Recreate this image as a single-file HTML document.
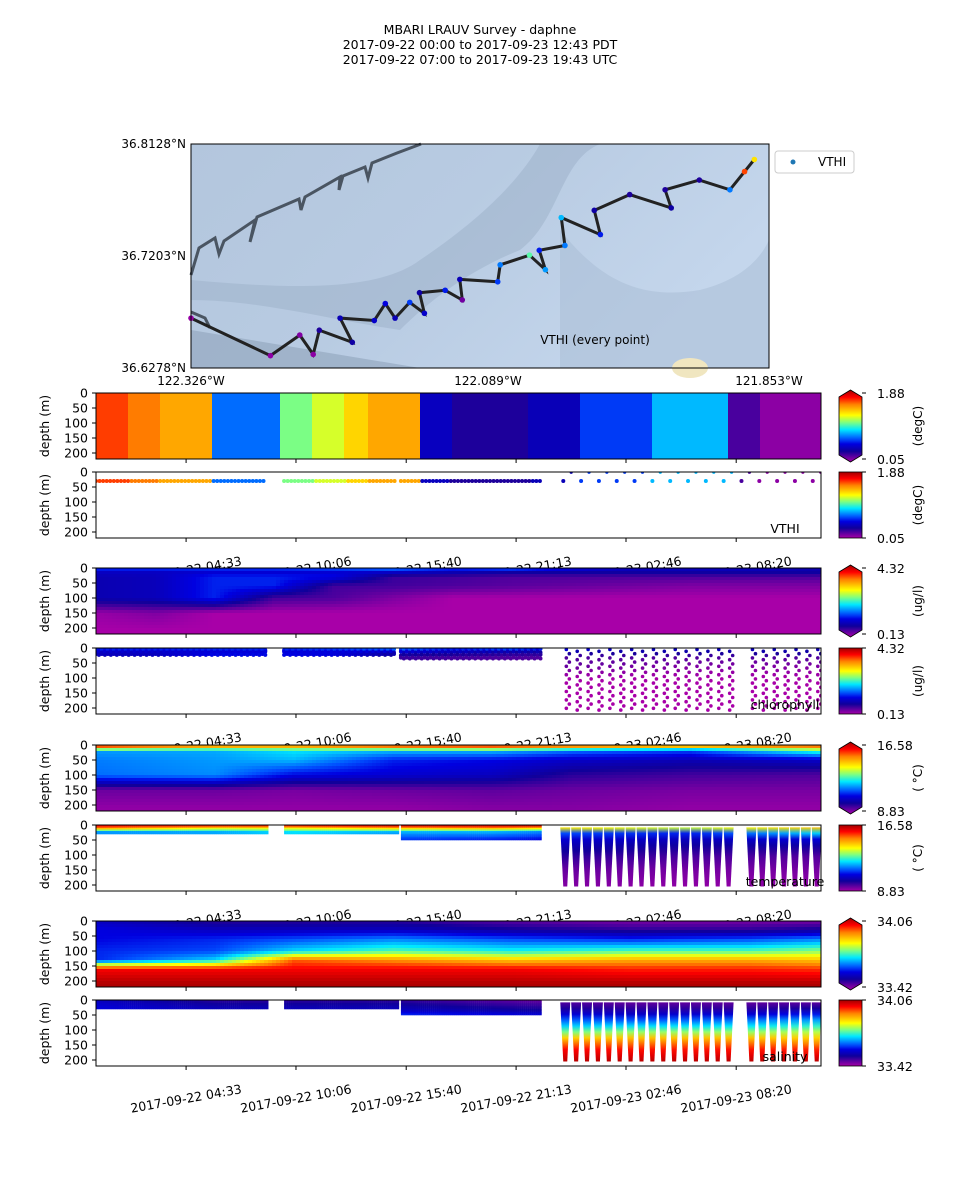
<!DOCTYPE html>
<html><head><meta charset="utf-8">
<style>
html,body{margin:0;padding:0;background:#fff;}
svg{display:block;font-family:"DejaVu Sans","Liberation Sans",sans-serif;}
</style></head>
<body>
<svg id="chart" width="960" height="1200" viewBox="0 0 960 1200" xmlns="http://www.w3.org/2000/svg">
<rect width="960" height="1200" fill="#fff"/>
<g font-size="12.5" text-anchor="middle" fill="#000">
<text x="480" y="34">MBARI LRAUV Survey - daphne</text>
<text x="480" y="49">2017-09-22 00:00  to  2017-09-23 12:43 PDT</text>
<text x="480" y="64">2017-09-22 07:00  to  2017-09-23 19:43 UTC</text>
</g>
<g id="root"></g>
</svg>
<script>
// ---------- DATA ----------
const vthiRange = [0.05, 1.88];
const chlRange = [0.13, 4.32];
const tempRange = [8.83, 16.58];
const salRange = [33.42, 34.06];
const tickHours = [4.55, 10.1, 15.667, 21.217, 26.767, 32.333];
const tickLabels = ["2017-09-22 04:33","2017-09-22 10:06","2017-09-22 15:40","2017-09-22 21:13","2017-09-23 02:46","2017-09-23 08:20"];
const depthTicks = [0, 50, 100, 150, 200];
// VTHI contour blocks
const vthiBlockStart = [0, 1.7, 3.2, 5.9, 9.3, 11.0, 12.6, 13.8, 16.4, 17.9, 21.9, 24.4, 28.0, 32.0, 33.5];
const vthiBlockVal = [1.61, 1.52, 1.43, 0.68, 1.05, 1.18, 1.33, 1.43, 0.42, 0.30, 0.40, 0.60, 0.80, 0.22, 0.10];
// chlorophyll contour profiles
const chlTimes = [0, 3, 6, 9, 12, 15, 18, 21, 24, 27, 30, 33, 36.8];
const chlDepths = [0, 15, 30, 60, 100, 150, 210];
const chlD0 = [1.4, 1.4, 1.4, 1.4, 1.5, 1.7, 1.4, 1.6, 1.2, 1.0, 1.0, 1.0, 0.9];
const chlD15 = [1.0, 1.0, 1.1, 1.1, 1.1, 1.0, 0.9, 0.8, 0.8, 0.8, 0.8, 0.8, 0.8];
const chlD30 = [0.9, 0.95, 1.3, 1.3, 1.2, 0.6, 0.55, 0.5, 0.5, 0.5, 0.5, 0.5, 0.5];
const chlD60 = [0.9, 0.95, 1.3, 1.3, 0.55, 0.55, 0.5, 0.45, 0.4, 0.35, 0.3, 0.3, 0.3];
const chlD100 = [0.9, 0.95, 1.3, 0.55, 0.5, 0.3, 0.13, 0.13, 0.13, 0.13, 0.13, 0.13, 0.13];
const chlD150 = [0.2, 0.3, 0.13, 0.13, 0.13, 0.13, 0.13, 0.13, 0.13, 0.13, 0.13, 0.13, 0.13];
const chlD210 = [0.13, 0.13, 0.13, 0.13, 0.13, 0.13, 0.13, 0.13, 0.13, 0.13, 0.13, 0.13, 0.13];
// temperature contour profiles
const tempTimes = [0, 6, 10, 15, 20, 24, 30, 36.8];
const tempDepths = [0, 8, 20, 50, 100, 150, 210];
const tempD0 = [15.8, 15.6, 15.6, 16.0, 16.0, 16.2, 16.0, 16.0];
const tempD8 = [15.0, 14.0, 14.0, 14.5, 14.8, 14.0, 13.5, 14.5];
const tempD20 = [11.8, 11.9, 12.3, 12.0, 12.0, 11.5, 11.2, 12.8];
const tempD50 = [11.6, 11.8, 12.0, 11.0, 10.8, 10.5, 10.3, 10.5];
const tempD100 = [11.5, 11.7, 10.8, 10.6, 10.4, 9.8, 9.6, 9.5];
const tempD150 = [9.3, 9.3, 9.2, 9.3, 9.4, 9.3, 9.2, 9.2];
const tempD210 = [9.0, 9.0, 9.0, 9.0, 9.1, 9.1, 9.0, 9.0];
// salinity contour profiles
const salTimes = [0, 6, 10, 15, 21, 27, 33, 36.8];
const salDepths = [0, 30, 60, 100, 130, 160, 210];
const salD0 = [33.55, 33.50, 33.50, 33.50, 33.47, 33.45, 33.45, 33.45];
const salD30 = [33.58, 33.55, 33.55, 33.55, 33.52, 33.50, 33.50, 33.52];
const salD60 = [33.58, 33.60, 33.62, 33.65, 33.62, 33.60, 33.62, 33.65];
const salD100 = [33.60, 33.62, 33.70, 33.75, 33.72, 33.75, 33.75, 33.78];
const salD130 = [33.60, 33.70, 33.95, 33.92, 33.88, 33.90, 33.90, 33.88];
const salD160 = [34.00, 34.00, 34.00, 34.00, 34.00, 33.98, 33.98, 33.97];
const salD210 = [34.05, 34.05, 34.05, 34.05, 34.05, 34.05, 34.05, 34.05];
// sampling segments
const bandStart = [0, 9.5, 15.4];
const bandEnd = [8.6, 15.2, 22.5];
const bandBottom = [28, 28, 50];
const sparseTimes = [23.6, 24.5, 25.4, 26.3, 27.2, 28.1, 29.0, 29.9, 30.8, 31.7, 32.6, 33.5, 34.4, 35.3, 36.2];
const yoyoTimes = [23.7, 24.25, 24.8, 25.35, 25.9, 26.45, 27.0, 27.55, 28.1, 28.65, 29.2, 29.75, 30.3, 30.85, 31.4, 31.95, 33.1, 33.65, 34.2, 34.75, 35.3, 35.85, 36.4];
// map track
const trackLon = [-122.326,-122.261,-122.237,-122.226,-122.221,-122.194,-122.204,-122.176,-122.167,-122.159,-122.147,-122.135,-122.139,-122.118,-122.104,-122.106,-122.075,-122.073,-122.049,-122.036,-122.041,-122.020,-122.023,-121.991,-121.996,-121.967,-121.933,-121.938,-121.910,-121.885,-121.873,-121.865];
const trackLat = [36.669,36.638,36.655,36.639,36.659,36.649,36.669,36.667,36.681,36.669,36.682,36.673,36.690,36.692,36.684,36.701,36.699,36.713,36.721,36.709,36.725,36.729,36.752,36.738,36.758,36.771,36.760,36.775,36.783,36.775,36.790,36.800];
const trackVthi = [0.08,0.10,0.12,0.10,0.30,0.35,0.40,0.45,0.50,0.40,0.60,0.45,0.35,0.55,0.15,0.40,0.60,0.70,1.00,0.75,0.55,0.70,0.80,0.55,0.35,0.30,0.35,0.30,0.30,0.70,1.60,1.30];
const mapLonRange = [-122.326, -121.853];
const mapLatRange = [36.6278, 36.8128];

// ---------- HELPERS ----------
const NS = "http://www.w3.org/2000/svg";
const root = document.getElementById("root");
function mk(tag, attrs, parent) {
  const e = document.createElementNS(NS, tag);
  for (const k in attrs) e.setAttribute(k, attrs[k]);
  (parent || root).appendChild(e);
  return e;
}
const cmStops = [[0,[168,0,168]],[0.06,[106,0,160]],[0.15,[16,0,154]],[0.25,[0,0,224]],[0.32,[0,80,255]],[0.45,[0,232,255]],[0.55,[128,255,128]],[0.65,[255,255,0]],[0.8,[255,128,0]],[0.9,[255,0,0]],[1,[160,0,0]]];
function cmap(n) {
  n = Math.max(0, Math.min(1, n));
  for (let i = 1; i < cmStops.length; i++) {
    if (n <= cmStops[i][0]) {
      const a = cmStops[i-1], b = cmStops[i], f = (n - a[0]) / (b[0] - a[0]);
      const c = a[1].map((v, j) => Math.round(v + (b[1][j] - v) * f));
      return "rgb(" + c.join(",") + ")";
    }
  }
  return "rgb(160,0,0)";
}
function norm(v, r) { return (v - r[0]) / (r[1] - r[0]); }
function interp(xs, ys, x) {
  if (x <= xs[0]) return ys[0];
  for (let i = 1; i < xs.length; i++) if (x <= xs[i]) {
    const f = (x - xs[i-1]) / (xs[i] - xs[i-1]);
    return ys[i-1] + (ys[i] - ys[i-1]) * f;
  }
  return ys[ys.length - 1];
}
const X0 = 96, X1 = 821, PH = 66;
function xOf(h) { return X0 + h * 19.8; }
function yOf(d, top) { return top + d * 0.3; }
function makeField(times, depths, levels) {
  return function (h, d) {
    const prof = levels.map(arr => interp(times, arr, h));
    return interp(depths, prof, d);
  };
}
const chlField = makeField(chlTimes, chlDepths, [chlD0, chlD15, chlD30, chlD60, chlD100, chlD150, chlD210]);
const tempField = makeField(tempTimes, tempDepths, [tempD0, tempD8, tempD20, tempD50, tempD100, tempD150, tempD210]);
const salField = makeField(salTimes, salDepths, [salD0, salD30, salD60, salD100, salD130, salD160, salD210]);
function vthiField(h, d) {
  let v = vthiBlockVal[0];
  for (let i = 0; i < vthiBlockStart.length; i++) if (h >= vthiBlockStart[i]) v = vthiBlockVal[i];
  return v;
}
const defs = mk("defs", {});
const cbg = mk("linearGradient", {id: "cbgrad", x1: 0, y1: 1, x2: 0, y2: 0}, defs);
for (let i = 0; i <= 20; i++) mk("stop", {offset: i / 20, "stop-color": cmap(i / 20)}, cbg);

// ---------- MAP ----------
const mapG = mk("g", {});


const mbg = mk("linearGradient", {id: "mapbg", x1: 0, y1: 0, x2: 1, y2: 0.4}, defs);
mk("stop", {offset: 0, "stop-color": "#b3c6dd"}, mbg);
mk("stop", {offset: 0.5, "stop-color": "#b8cbe2"}, mbg);
mk("stop", {offset: 1, "stop-color": "#c4d6ec"}, mbg);
mk("rect", {x: 191, y: 144, width: 578, height: 224, fill: "url(#mapbg)"}, mapG);
mk("path", {d: "M191 300 C260 300 330 320 400 330 C430 300 470 270 520 250 C560 220 560 160 600 144 L540 144 C520 180 480 220 420 260 C380 290 300 290 191 280 Z", fill: "#9fb3cb", opacity: 0.55}, mapG);
mk("path", {d: "M191 330 L420 368 L191 368 Z", fill: "#8fa3bb", opacity: 0.6}, mapG);
mk("path", {d: "M560 230 C600 280 640 300 700 290 C740 280 760 260 769 240 L769 368 L560 368 Z", fill: "#a8bcd4", opacity: 0.5}, mapG);
mk("ellipse", {cx: 690, cy: 368, rx: 18, ry: 10, fill: "#f0e6c0"}, mapG);
mk("polyline", {points: "191,275 199,248 215,238 219,254 224,241 255,220 250,242 257,217 299,199 301,210 305,197 340,177 339,190 343,176 365,167 368,178 372,163 397,153 421,144", fill: "none", stroke: "#4a5562", "stroke-width": 3}, mapG);
mk("polyline", {points: "191,312 205,318 210,328", fill: "none", stroke: "#4a5562", "stroke-width": 3}, mapG);
function mx(lon) { return 191 + (lon - mapLonRange[0]) / (mapLonRange[1] - mapLonRange[0]) * 578; }
function my(lat) { return 368 - (lat - mapLatRange[0]) / (mapLatRange[1] - mapLatRange[0]) * 224; }
const trackPts = trackLon.map((lo, i) => mx(lo).toFixed(1) + "," + my(trackLat[i]).toFixed(1)).join(" ");
const trackLine = mk("polyline", {points: trackPts, fill: "none", stroke: "#222", "stroke-width": 3}, mapG);


for (let i = 0; i < trackLon.length; i++) {
  const c = mk("circle", {cx: mx(trackLon[i]), cy: my(trackLat[i]), r: 2.8, fill: cmap(norm(trackVthi[i], vthiRange))}, mapG);
  
  
}
mk("rect", {x: 191, y: 144, width: 578, height: 224, fill: "none", stroke: "#000", "stroke-width": 1}, mapG);
mk("text", {x: 595, y: 344, "font-size": 12, "text-anchor": "middle"}, mapG).textContent = "VTHI (every point)";
const latLbl = [["36.8128°N", 148], ["36.7203°N", 260], ["36.6278°N", 372]];
latLbl.forEach(l => mk("text", {x: 186, y: l[1], "font-size": 12, "text-anchor": "end"}, mapG).textContent = l[0]);
const lonLbl = [["122.326°W", 191], ["122.089°W", 488], ["121.853°W", 769]];
lonLbl.forEach(l => mk("text", {x: l[1], y: 385, "font-size": 12, "text-anchor": "middle"}, mapG).textContent = l[0]);
const leg = mk("g", {}, mapG);


mk("rect", {x: 775, y: 151, width: 79, height: 22, rx: 3, fill: "#fff", stroke: "#ccc"}, leg);
mk("circle", {cx: 793, cy: 162, r: 2.5, fill: "#1f77b4"}, leg);
mk("text", {x: 818, y: 166, "font-size": 12}, leg).textContent = "VTHI";

// ---------- PANELS ----------
const panelTops = [393, 472, 568, 648, 745, 825, 921, 1000];
const panelNames = ["vthi-contour", "vthi-samples", "chlorophyll-contour", "chlorophyll-samples", "temperature-contour", "temperature-samples", "salinity-contour", "salinity-samples"];
const fields = [vthiField, vthiField, chlField, chlField, tempField, tempField, salField, salField];
const ranges = [vthiRange, vthiRange, chlRange, chlRange, tempRange, tempRange, salRange, salRange];
const units = ["(degC)", "(degC)", "(ug/l)", "(ug/l)", "( \u00B0C)", "( \u00B0C)", "", ""];
const inLabels = ["", "VTHI", "", "chlorophyll", "", "temperature", "", "salinity"];

[1, 3, 5].forEach(pi => {
  const bot = panelTops[pi] + PH;
  tickHours.forEach((h, i) => {
    const t = mk("text", {x: xOf(h), y: bot + 37, "font-size": 12.5, "text-anchor": "middle", transform: "rotate(-10 " + xOf(h) + " " + (bot + 33) + ")"});
    t.textContent = tickLabels[i];
  });
});

function drawAxes(g, top, pi) {
  mk("rect", {x: X0, y: top, width: X1 - X0, height: PH, fill: "none", stroke: "#000", "stroke-width": 1}, g);
  depthTicks.forEach(d => {
    const y = yOf(d, top);
    mk("line", {x1: X0 - 4, x2: X0, y1: y, y2: y, stroke: "#000"}, g);
    mk("text", {x: X0 - 8, y: y + 4.5, "font-size": 12.5, "text-anchor": "end"}, g).textContent = d;
  });
  tickHours.forEach(h => mk("line", {x1: xOf(h), x2: xOf(h), y1: top + PH, y2: top + PH + 4, stroke: "#000"}, g));
  const yl = mk("text", {x: 49, y: top + PH / 2, "font-size": 12.5, "text-anchor": "middle", transform: "rotate(-90 49 " + (top + PH / 2) + ")"}, g);
  yl.textContent = "depth (m)";
  if (inLabels[pi]) {
    const t = mk("text", {x: 785, y: top + PH - 5, "font-size": 12.5, "text-anchor": "middle"}, g);
    t.textContent = inLabels[pi];
  }
  const cb = mk("g", {}, g);
  
  
  const r = ranges[pi];
  if (pi % 2 === 0) {
    mk("polygon", {points: "839," + (top + 4) + " 850.5," + (top - 3) + " 862," + (top + 4) + " 862," + (top + PH - 4) + " 850.5," + (top + PH + 3) + " 839," + (top + PH - 4), fill: "url(#cbgrad)", stroke: "#000", "stroke-width": 0.8}, cb);
  } else {
    mk("rect", {x: 839, y: top, width: 23, height: PH, fill: "url(#cbgrad)", stroke: "#000", "stroke-width": 0.8}, cb);
  }
  mk("line", {x1: 862, x2: 866, y1: top, y2: top, stroke: "#000"}, cb);
  mk("line", {x1: 862, x2: 866, y1: top + PH, y2: top + PH, stroke: "#000"}, cb);
  mk("text", {x: 877, y: top + 5, "font-size": 12.5}, cb).textContent = r[1].toFixed(2);
  mk("text", {x: 877, y: top + PH + 5, "font-size": 12.5}, cb).textContent = r[0].toFixed(2);
  if (units[pi]) {
    const u = mk("text", {x: 922, y: top + PH / 2, "font-size": 12, "text-anchor": "middle", transform: "rotate(-90 922 " + (top + PH / 2) + ")"}, cb);
    u.textContent = units[pi];
  }
}

function drawContour(pi) {
  const top = panelTops[pi];
  const g = mk("g", {});
  
  
  const f = fields[pi], r = ranges[pi];
  const cw = 4, rows = 22;
  for (let x = X0; x < X1; x += cw) {
    const h = (x + cw / 2 - X0) / 19.8;
    for (let j = 0; j < rows; j++) {
      const d = (j + 0.5) * 10;
      mk("rect", {x: x, y: top + j * 3, width: Math.min(cw, X1 - x) + 0.3, height: 3.3, fill: cmap(norm(f(h, d), r))}, g);
    }
  }
  drawAxes(g, top, pi);
}

function drawSamples(pi) {
  const top = panelTops[pi];
  const g = mk("g", {});
  
  
  mk("rect", {x: X0, y: top, width: X1 - X0, height: PH, fill: "#fff"}, g);
  const f = fields[pi], r = ranges[pi];
  const clip = mk("clipPath", {id: "clip" + pi}, defs);
  mk("rect", {x: X0, y: top, width: X1 - X0, height: PH}, clip);
  const inner = mk("g", {"clip-path": "url(#clip" + pi + ")"}, g);
  if (pi === 1) {
    bandStart.forEach((s, k) => {
      for (let h = s; h <= bandEnd[k]; h += 0.18) {
        const c = mk("circle", {cx: xOf(h), cy: yOf(30, top), r: 2, fill: cmap(norm(f(h, 30), r))}, inner);
        
        
      }
    });
    sparseTimes.forEach(h => {
      const c = mk("circle", {cx: xOf(h), cy: yOf(30, top), r: 2, fill: cmap(norm(f(h, 30), r))}, inner);
      
      
      mk("circle", {cx: xOf(h + 0.4), cy: yOf(1, top), r: 1.6, fill: cmap(norm(f(h, 0), r))}, inner);
    });
  } else if (pi === 3) {
    bandStart.forEach((s, k) => {
      const depths = k === 2 ? [3, 12, 22, 32] : [4, 12, 20];
      for (let h = s; h <= bandEnd[k]; h += 0.15) depths.forEach((d, j) => {
        const dd = d + ((Math.round(h / 0.15) + j) % 2) * 3;
        const c = mk("circle", {cx: xOf(h), cy: yOf(dd, top), r: 2, fill: cmap(norm(f(h, dd), r))}, inner);
        
        
      });
    });
    yoyoTimes.forEach((h, k) => {
      for (let d = 5; d <= 205; d += 14) {
        const dd = d + (k % 2) * 6;
        const c = mk("circle", {cx: xOf(h) + ((d / 14) % 2) * 3, cy: yOf(dd, top), r: 1.8, fill: cmap(norm(f(h, dd), r))}, inner);
        
        
      }
    });
  } else {
    bandStart.forEach((s, k) => {
      for (let h = s; h <= bandEnd[k]; h += 0.1) {
        for (let d = 0; d < bandBottom[k]; d += 5) {
          mk("rect", {x: xOf(h), y: yOf(d, top), width: 2.2, height: 1.8, fill: cmap(norm(f(h, d), r))}, inner);
        }
      }
    });
    yoyoTimes.forEach((h, k) => {
      const gid = "yg" + pi + "_" + k;
      const lg = mk("linearGradient", {id: gid, x1: 0, y1: 0, x2: 0, y2: 1}, defs);
      for (let i = 0; i <= 10; i++) {
        const d = 8 + i * 19.7;
        mk("stop", {offset: i / 10, "stop-color": cmap(norm(f(h, d), r))}, lg);
      }
      const x = xOf(h), y0 = yOf(8, top), y1 = yOf(205, top);
      const w = mk("polygon", {points: (x - 5) + "," + y0 + " " + (x + 5) + "," + y0 + " " + (x + 2) + "," + y1 + " " + (x - 2) + "," + y1, fill: "url(#" + gid + ")"}, inner);
      
      
    });
  }
  drawAxes(g, top, pi);
}

for (let pi = 0; pi < 8; pi++) {
  if (pi % 2 === 0) drawContour(pi); else drawSamples(pi);
}
const bl = mk("g", {});


tickHours.forEach((h, i) => {
  const bot = panelTops[7] + PH;
  const t = mk("text", {x: xOf(h), y: bot + 37, "font-size": 12.5, "text-anchor": "middle", transform: "rotate(-10 " + xOf(h) + " " + (bot + 33) + ")"}, bl);
  t.textContent = tickLabels[i];
});
</script>
</body></html>
